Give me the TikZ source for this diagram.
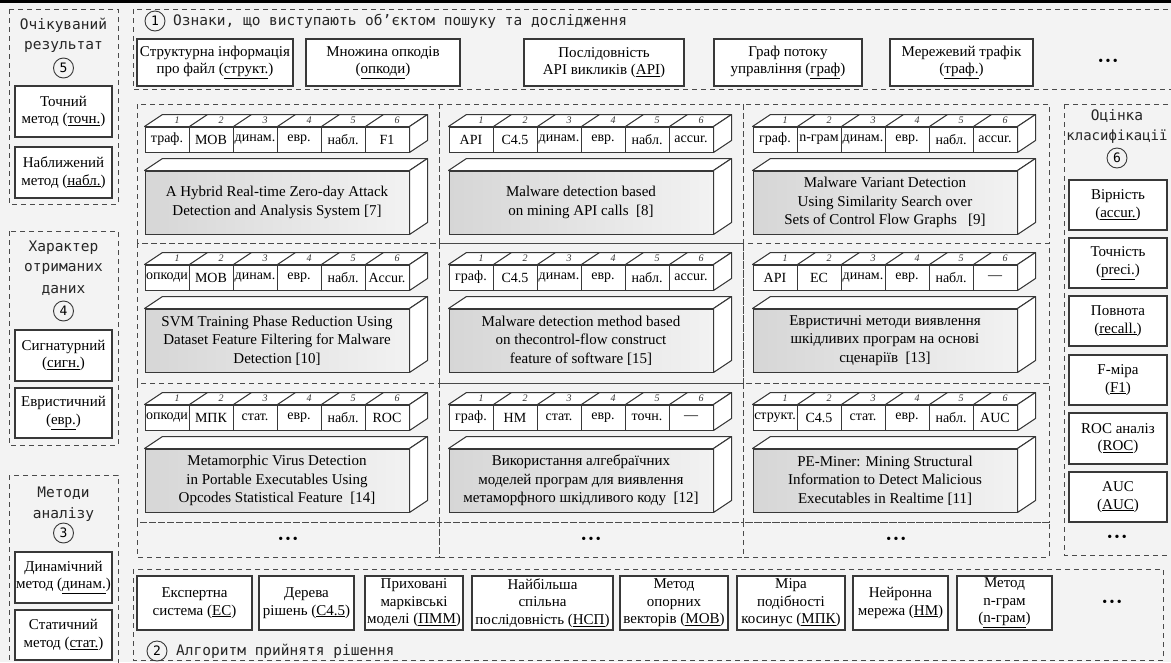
\documentclass[tikz,border=0pt]{standalone}
\usepackage{fontspec}
\setmainfont{Liberation Serif}
\setmonofont{DejaVu Sans Mono}
\usetikzlibrary{calc}
\definecolor{bg}{HTML}{F3F3F3}
\definecolor{ln}{HTML}{383838}
\definecolor{dl}{HTML}{4A4A4A}
\definecolor{frontL}{HTML}{D6D6D6}
\definecolor{frontR}{HTML}{F2F2F2}
\newcommand{\fsz}[2]{\fontsize{#1}{#2}\selectfont}
\tikzset{
  grp/.style={draw=dl, line width=0.9pt, dash pattern=on 5pt off 4pt},
  wbox/.style={draw=ln, fill=white, line width=1.15pt, align=center, inner sep=0pt, font=\fsz{15}{17.5}},
  ttl/.style={font=\ttfamily\fsz{14.5}{16}, text=black!85, inner sep=0pt},
  num/.style={circle, draw=ln, line width=0.9pt, minimum size=20pt, inner sep=0pt, font=\ttfamily\fsz{13}{13}},
  cellbox/.style={draw=ln, fill=white, line width=1pt, minimum width=44pt, minimum height=25pt, inner sep=0pt, font=\fsz{14}{14}},
  face/.style={draw=ln, fill=white, line width=1pt, line join=round},
  cnum/.style={font=\itshape\fsz{10}{10}, inner sep=0pt, text=black!80},
  bigf/.style={draw=ln, line width=1pt, minimum width=264pt, minimum height=63pt, inner sep=0pt, left color=frontL, right color=frontR, align=center, font=\fsz{15}{18.5}},
  dots/.style={font=\fsz{14}{14}, inner sep=0pt},
}
% cell row: #1 name, #2 x-left, #3 y-top, #4..#9 texts
\newcommand{\cellrow}[9]{%
  \node[cellbox] (#1-1) at ({#2+22},{#3+12.5}) {#4};
  \node[cellbox] (#1-2) at ({#2+66},{#3+12.5}) {#5};
  \node[cellbox] (#1-3) at ({#2+110},{#3+12.5}) {#6};
  \node[cellbox] (#1-4) at ({#2+154},{#3+12.5}) {#7};
  \node[cellbox] (#1-5) at ({#2+198},{#3+12.5}) {#8};
  \node[cellbox] (#1-6) at ({#2+242},{#3+12.5}) {#9};
  \draw[face] (#1-1.north west) -- ++(18,-12) -- ($(#1-6.north east)+(18,-12)$) -- (#1-6.north east) -- cycle;
  \draw[face] (#1-6.north east) -- ++(18,-12) -- ($(#1-6.south east)+(18,-12)$) -- (#1-6.south east) -- cycle;
  \foreach \k in {1,...,5}{\draw[ln, line width=1pt] (#1-\k.north east) -- ++(18,-12);}
  \foreach \k in {1,...,6}{\node[cnum] at ($(#1-\k.north)+(10,-6.5)$) {\k};}
}
% big block: #1 name, #2 x-left, #3 y-top, #4 text
\newcommand{\blk}[4]{%
  \node[bigf] (#1) at ({#2+132},{#3+31.5}) {#4};
  \draw[face] (#1.north west) -- ++(18,-12) -- ($(#1.north east)+(18,-12)$) -- (#1.north east) -- cycle;
  \draw[face] (#1.north east) -- ++(18,-12) -- ($(#1.south east)+(18,-12)$) -- (#1.south east) -- cycle;
}
% white labelled box from corners: #1 name, #2 x1, #3 y1, #4 x2, #5 y2, #6 text
\newcommand{\wb}[6]{%
  \node[wbox, minimum width={(#4-#2)*1pt}, minimum height={(#5-#3)*1pt}] (#1) at ({(#2+#4)/2},{(#3+#5)/2}) {#6};
}
\begin{document}
\begin{tikzpicture}[x=1pt,y=-1pt]
\useasboundingbox (0,0) rectangle (1171,662);
\fill[bg] (0,0) rectangle (1171,662);
\fill[black] (0,0) rectangle (1171,2.5);

% ---------- left column ----------
\draw[grp] (9,9) rectangle (118,204);
\node[ttl] (t5a) at (63.5,25) {Очікуваний};
\node[ttl] (t5b) at (63.5,47) {результат};
\node[num] (n5) at (63.5,68) {5};
\wb{l5a}{15}{86}{112}{137}{Точний\\метод (\underline{точн.})}
\wb{l5b}{15}{147}{112}{198}{Наближений\\метод (\underline{набл.})}

\draw[grp] (9,231) rectangle (118,445);
\node[ttl] (t4a) at (63.5,248) {Характер};
\node[ttl] (t4b) at (63.5,269) {отриманих};
\node[ttl] (t4c) at (63.5,290) {даних};
\node[num] (n4) at (63.5,311) {4};
\wb{l4a}{15}{330}{112}{381}{Сигнатурний\\(\underline{сигн.})}
\wb{l4b}{15}{388}{112}{438}{Евристичний\\(\underline{евр.})}

\draw[grp] (9,475) rectangle (118,668);
\node[ttl] (t3a) at (63.5,493) {Методи};
\node[ttl] (t3b) at (63.5,514) {аналізу};
\node[num] (n3) at (63.5,533) {3};
\wb{l3a}{15}{552}{112}{603}{Динамічний\\метод (\underline{динам.})}
\wb{l3b}{15}{610}{112}{660}{Статичний\\метод (\underline{стат.})}

% ---------- top group ----------
\draw[grp] (133,9) rectangle (1178,89);
\node[num] (n1) at (155,21) {1};
\node[ttl, anchor=west] (t1) at (173,21) {Ознаки, що виступають об’єктом пошуку та дослідження};
\wb{fa}{137}{39}{293}{86}{Структурна інформація\\про файл (\underline{структ.})}
\wb{fb}{306}{39}{460}{86}{Множина опкодів\\(\underline{опкоди})}
\wb{fc}{524}{39}{684}{86}{Послідовність\\API викликів (\underline{API})}
\wb{fd}{714}{39}{862}{86}{Граф потоку\\управління (\underline{граф})}
\wb{fe}{890}{39}{1033}{86}{Мережевий трафік\\(\underline{траф.})}
\node[dots] (fdots) at (1108,62) {•\,•\,•};

% ---------- grid of works ----------
\foreach \xa/\xb in {137/439, 439/743, 743/1049}{
  \foreach \ya/\yb in {104/243, 243/383, 383/522, 522/557}{
    \draw[grp] (\xa,\ya) rectangle (\xb,\yb);
  }
}
% row 1
\cellrow{r1c1}{145}{127}{траф.}{МОВ}{динам.}{евр.}{набл.}{F1}
\blk{b11}{145}{171}{A Hybrid Real-time Zero-day Attack\\Detection and Analysis System [7]}
\cellrow{r1c2}{449}{127}{API}{C4.5}{динам.}{евр.}{набл.}{accur.}
\blk{b12}{449}{171}{Malware detection based\\on mining API calls\ \ [8]}
\cellrow{r1c3}{753}{127}{граф.}{n-грам}{динам.}{евр.}{набл.}{accur.}
\blk{b13}{753}{171}{Malware Variant Detection\\Using Similarity Search over\\Sets of Control Flow Graphs\ \ \ [9]}
% row 2
\cellrow{r2c1}{145}{265}{опкоди}{МОВ}{динам.}{евр.}{набл.}{Accur.}
\blk{b21}{145}{309}{SVM Training Phase Reduction Using\\Dataset Feature Filtering for Malware\\Detection [10]}
\cellrow{r2c2}{449}{265}{граф.}{C4.5}{динам.}{евр.}{набл.}{accur.}
\blk{b22}{449}{309}{Malware detection method based\\on thecontrol-flow construct\\feature of software [15]}
\cellrow{r2c3}{753}{265}{API}{ЕС}{динам.}{евр.}{набл.}{—}
\blk{b23}{753}{309}{Евристичні методи виявлення\\шкідливих програм на основі\\сценаріїв\ \ [13]}
% row 3
\cellrow{r3c1}{145}{405}{опкоди}{МПК}{стат.}{евр.}{набл.}{ROC}
\blk{b31}{145}{449}{Metamorphic Virus Detection\\in Portable Executables Using\\Opcodes Statistical Feature\ \ [14]}
\cellrow{r3c2}{449}{405}{граф.}{НМ}{стат.}{евр.}{точн.}{—}
\blk{b32}{449}{449}{Використання алгебраїчних\\моделей програм для виявлення\\метаморфного шкідливого коду\ \ [12]}
\cellrow{r3c3}{753}{405}{структ.}{C4.5}{стат.}{евр.}{набл.}{AUC}
\blk{b33}{753}{449}{PE-Miner: Mining Structural\\Information to Detect Malicious\\Executables in Realtime [11]}
\node[dots] (gd1) at (288,540) {•\,•\,•};
\node[dots] (gd2) at (591,540) {•\,•\,•};
\node[dots] (gd3) at (896,540) {•\,•\,•};

% ---------- right column ----------
\draw[grp] (1064,104) rectangle (1178,555);
\node[ttl] (t6a) at (1117,116) {Оцінка};
\node[ttl, font=\ttfamily\fsz{14}{16}] (t6b) at (1117,137) {класифікації};
\node[num] (n6) at (1117,158) {6};
\wb{m1}{1069}{180}{1167}{230}{Вірність\\(\underline{accur.})}
\wb{m2}{1069}{238}{1167}{288}{Точність\\(\underline{preci.})}
\wb{m3}{1069}{296}{1167}{346}{Повнота\\(\underline{recall.})}
\wb{m4}{1069}{355}{1167}{405}{F-міра\\(\underline{F1})}
\wb{m5}{1069}{413}{1167}{464}{ROC аналіз\\(\underline{ROC})}
\wb{m6}{1069}{472}{1167}{522}{AUC\\(\underline{AUC})}
\node[dots] (mdots) at (1117,538) {•\,•\,•};

% ---------- bottom group ----------
\draw[grp] (133,569) rectangle (1163,660);
\wb{a1}{137}{576}{252}{630}{Експертна\\система (\underline{ЕС})}
\wb{a2}{259}{576}{354}{630}{Дерева\\рішень (\underline{C4.5})}
\wb{a3}{365}{576}{463}{630}{Приховані\\марківські\\моделі (\underline{ПММ})}
\wb{a4}{472}{576}{613}{630}{Найбільша\\спільна\\послідовність (\underline{НСП})}
\wb{a5}{620}{576}{728}{630}{Метод\\опорних\\векторів (\underline{МОВ})}
\wb{a6}{737}{576}{845}{630}{Міра\\подібності\\косинус (\underline{МПК})}
\wb{a7}{853}{576}{948}{630}{Нейронна\\мережа (\underline{НМ})}
\wb{a8}{957}{576}{1052}{630}{Метод\\n-грам\\(\underline{n-грам})}
\node[dots] (adots) at (1112,603) {•\,•\,•};
\node[num] (n2) at (157,651) {2};
\node[ttl, anchor=west] (t2) at (176,651) {Алгоритм прийнятя рішення};
\end{tikzpicture}
\end{document}
